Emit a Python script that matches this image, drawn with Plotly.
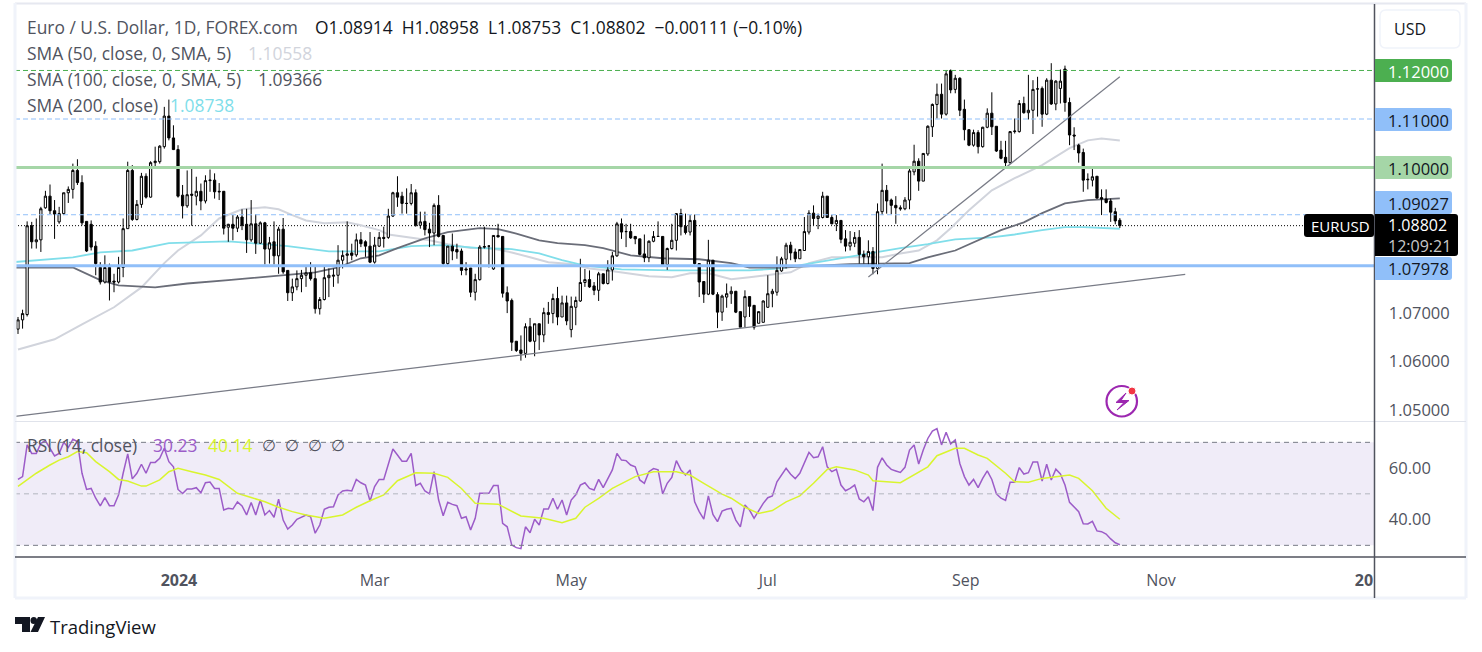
import plotly.graph_objects as go

W, H = 1482, 652
FONT = "Open Sans"

# candles, oldest first, one per trading day
open_prices = [
    1.0667,1.0686,1.0697,1.0880,1.0847,1.0851,1.0917,1.0941,1.0911,1.0888,
    1.0905,1.0948,1.0955,1.0994,1.0969,1.0889,1.0883,1.0838,1.0794,1.0764,
    1.0794,1.0766,1.0764,1.0794,1.0874,1.0994,1.0893,1.0924,1.0982,1.0939,
    1.1010,1.1012,1.1043,1.1106,1.1061,1.1037,1.0943,1.0921,1.0945,1.0941,
    1.0951,1.0931,1.0973,1.0974,1.0951,1.0951,1.0877,1.0883,1.0875,1.0898,
    1.0883,1.0851,1.0884,1.0844,1.0886,1.0832,1.0847,1.0818,1.0873,1.0788,
    1.0742,1.0754,1.0771,1.0778,1.0783,1.0771,1.0709,1.0728,1.0773,1.0776,
    1.0778,1.0809,1.0819,1.0824,1.0820,1.0851,1.0847,1.0838,1.0805,1.0838,
    1.0856,1.0856,1.0900,1.0948,1.0941,1.0926,1.0926,1.0948,1.0881,1.0889,
    1.0873,1.0865,1.0922,1.0860,1.0802,1.0838,1.0831,1.0828,1.0791,1.0793,
    1.0743,1.0769,1.0836,1.0838,1.0791,1.0860,1.0858,1.0742,1.0726,1.0642,
    1.0624,1.0617,1.0672,1.0642,1.0678,1.0655,1.0701,1.0699,1.0730,1.0692,
    1.0721,1.0666,1.0712,1.0725,1.0763,1.0769,1.0756,1.0747,1.0781,1.0761,
    1.0789,1.0818,1.0884,1.0868,1.0868,1.0858,1.0853,1.0822,1.0814,1.0848,
    1.0858,1.0858,1.0800,1.0833,1.0850,1.0905,1.0879,1.0867,1.0891,1.0802,
    1.0765,1.0739,1.0809,1.0738,1.0702,1.0733,1.0740,1.0745,1.0703,1.0692,
    1.0734,1.0716,1.0679,1.0681,1.0712,1.0740,1.0743,1.0787,1.0811,1.0840,
    1.0826,1.0812,1.0829,1.0867,1.0906,1.0895,1.0897,1.0941,1.0897,1.0884,
    1.0891,1.0853,1.0838,1.0844,1.0856,1.0821,1.0816,1.0827,1.0792,1.0909,
    1.0953,1.0933,1.0922,1.0917,1.0915,1.0933,1.0991,1.1013,1.0972,1.1028,
    1.1084,1.1130,1.1151,1.1110,1.1200,1.1161,1.1184,1.1120,1.1078,1.1046,
    1.1072,1.1043,1.1083,1.1112,1.1085,1.1036,1.1021,1.1010,1.1074,1.1074,
    1.1132,1.1113,1.1118,1.1162,1.1163,1.1110,1.1180,1.1131,1.1163,1.1203,
    1.1134,1.1067,1.1046,1.1031,1.0976,1.0974,1.0982,1.0938,1.0935,1.0931,
    1.0909,1.08914]
high_prices = [
    1.0692,1.0707,1.0889,1.0888,1.0895,1.0919,1.0952,1.0965,1.0933,1.0919,
    1.0948,1.0961,1.1008,1.1017,1.0984,1.0889,1.0891,1.0848,1.0805,1.0819,
    1.0802,1.0781,1.0816,1.0895,1.1012,1.1005,1.0933,1.0989,1.0988,1.1013,
    1.1043,1.1046,1.1125,1.1140,1.1087,1.1046,1.0964,1.0994,1.0998,1.0981,
    1.0967,1.0984,1.0996,1.0988,1.0968,1.0951,1.0884,1.0902,1.0902,1.0914,
    1.0915,1.0933,1.0904,1.0889,1.0888,1.0857,1.0889,1.0878,1.0896,1.0788,
    1.0771,1.0788,1.0789,1.0795,1.0805,1.0795,1.0733,1.0795,1.0792,1.0792,
    1.0840,1.0829,1.0889,1.0843,1.0864,1.0867,1.0850,1.0867,1.0857,1.0867,
    1.0878,1.0915,1.0950,1.0982,1.0950,1.0957,1.0966,1.0955,1.0909,1.0909,
    1.0886,1.0926,1.0943,1.0860,1.0838,1.0864,1.0843,1.0833,1.0805,1.0793,
    1.0781,1.0840,1.0878,1.0840,1.0860,1.0884,1.0858,1.0755,1.0730,1.0642,
    1.0654,1.0679,1.0690,1.0678,1.0678,1.0711,1.0723,1.0740,1.0754,1.0736,
    1.0736,1.0734,1.0734,1.0812,1.0791,1.0788,1.0764,1.0785,1.0781,1.0809,
    1.0826,1.0888,1.0895,1.0884,1.0884,1.0858,1.0853,1.0862,1.0850,1.0869,
    1.0889,1.0858,1.0835,1.0884,1.0906,1.0915,1.0905,1.0902,1.0903,1.0802,
    1.0765,1.0851,1.0809,1.0743,1.0738,1.0761,1.0755,1.0745,1.0703,1.0747,
    1.0734,1.0716,1.0703,1.0726,1.0778,1.0750,1.0817,1.0816,1.0845,1.0847,
    1.0833,1.0831,1.0898,1.0912,1.0922,1.0905,1.0950,1.0941,1.0902,1.0902,
    1.0891,1.0871,1.0869,1.0867,1.0871,1.0829,1.0850,1.0836,1.0926,1.1008,
    1.0964,1.0936,1.0941,1.0922,1.0939,1.0998,1.1047,1.1019,1.1029,1.1087,
    1.1132,1.1173,1.1173,1.1201,1.1202,1.1191,1.1186,1.1140,1.1078,1.1078,
    1.1077,1.1084,1.1122,1.1155,1.1085,1.1055,1.1055,1.1075,1.1101,1.1139,
    1.1146,1.1191,1.1180,1.1187,1.1167,1.1184,1.1215,1.1180,1.1202,1.1210,
    1.1144,1.1083,1.1049,1.1039,1.0988,1.0997,1.0982,1.0955,1.0955,1.0936,
    1.0917,1.08958]
low_prices = [
    1.0657,1.0668,1.0693,1.0833,1.0833,1.0826,1.0915,1.0904,1.0853,1.0884,
    1.0902,1.0927,1.0936,1.0964,1.0881,1.0826,1.0829,1.0778,1.0759,1.0761,
    1.0726,1.0743,1.0761,1.0774,1.0874,1.0890,1.0891,1.0917,1.0936,1.0938,
    1.1001,1.1008,1.1039,1.1056,1.1036,1.0938,1.0895,1.0917,1.0880,1.0922,
    1.0912,1.0926,1.0950,1.0936,1.0933,1.0862,1.0847,1.0850,1.0867,1.0871,
    1.0824,1.0847,1.0822,1.0843,1.0800,1.0802,1.0800,1.0781,1.0781,1.0725,
    1.0725,1.0747,1.0743,1.0754,1.0767,1.0699,1.0697,1.0726,1.0733,1.0754,
    1.0761,1.0792,1.0802,1.0809,1.0816,1.0836,1.0816,1.0803,1.0802,1.0836,
    1.0835,1.0853,1.0898,1.0919,1.0905,1.0905,1.0922,1.0878,1.0874,1.0860,
    1.0836,1.0840,1.0856,1.0798,1.0798,1.0809,1.0812,1.0778,1.0778,1.0733,
    1.0726,1.0767,1.0833,1.0794,1.0789,1.0856,1.0732,1.0700,1.0622,1.0620,
    1.0602,1.0608,1.0640,1.0611,1.0624,1.0640,1.0678,1.0679,1.0675,1.0692,
    1.0675,1.0650,1.0675,1.0723,1.0754,1.0752,1.0737,1.0725,1.0759,1.0759,
    1.0767,1.0816,1.0853,1.0836,1.0853,1.0842,1.0819,1.0805,1.0805,1.0846,
    1.0857,1.0798,1.0789,1.0831,1.0829,1.0860,1.0862,1.0860,1.0800,1.0733,
    1.0721,1.0737,1.0737,1.0669,1.0684,1.0711,1.0719,1.0700,1.0671,1.0671,
    1.0692,1.0666,1.0679,1.0681,1.0711,1.0712,1.0736,1.0785,1.0792,1.0809,
    1.0805,1.0812,1.0829,1.0862,1.0881,1.0873,1.0895,1.0897,1.0883,1.0869,
    1.0844,1.0827,1.0829,1.0836,1.0802,1.0802,1.0800,1.0780,1.0780,1.0902,
    1.0905,1.0904,1.0884,1.0911,1.0912,1.0914,1.0984,1.0952,1.0972,1.1024,
    1.1063,1.1101,1.1101,1.1107,1.1153,1.1153,1.1106,1.1056,1.1044,1.1043,
    1.1029,1.1041,1.1081,1.1067,1.1032,1.1017,1.1003,1.1008,1.1070,1.1072,
    1.1111,1.1099,1.1069,1.1105,1.1084,1.1108,1.1129,1.1118,1.1132,1.1115,
    1.1046,1.1036,1.1010,1.0950,1.0955,1.0961,1.0936,1.0902,1.0926,1.0888,
    1.0883,1.08753]
close_prices = [
    1.0686,1.0699,1.0880,1.0847,1.0851,1.0915,1.0941,1.0911,1.0904,1.0905,
    1.0948,1.0955,1.0994,1.0969,1.0886,1.0828,1.0836,1.0802,1.0764,1.0794,
    1.0764,1.0764,1.0794,1.0874,1.0994,1.0893,1.0924,1.0982,1.0939,1.1010,
    1.1013,1.1044,1.1106,1.1061,1.1037,1.0941,1.0921,1.0944,1.0943,1.0951,
    1.0931,1.0973,1.0974,1.0950,1.0950,1.0875,1.0883,1.0875,1.0898,1.0881,
    1.0851,1.0884,1.0844,1.0886,1.0832,1.0845,1.0818,1.0873,1.0785,1.0742,
    1.0754,1.0771,1.0778,1.0783,1.0771,1.0709,1.0728,1.0773,1.0778,1.0778,
    1.0809,1.0819,1.0822,1.0819,1.0851,1.0843,1.0838,1.0805,1.0840,1.0856,
    1.0854,1.0900,1.0948,1.0939,1.0926,1.0926,1.0948,1.0881,1.0888,1.0872,
    1.0865,1.0922,1.0858,1.0802,1.0838,1.0828,1.0826,1.0788,1.0789,1.0743,
    1.0769,1.0836,1.0837,1.0838,1.0860,1.0857,1.0741,1.0725,1.0640,1.0623,
    1.0617,1.0672,1.0642,1.0678,1.0655,1.0701,1.0697,1.0730,1.0692,1.0721,
    1.0684,1.0714,1.0726,1.0763,1.0769,1.0754,1.0747,1.0781,1.0761,1.0789,
    1.0818,1.0884,1.0867,1.0868,1.0855,1.0853,1.0821,1.0814,1.0848,1.0858,
    1.0858,1.0800,1.0833,1.0850,1.0905,1.0878,1.0866,1.0891,1.0802,1.0764,
    1.0739,1.0809,1.0739,1.0702,1.0735,1.0740,1.0745,1.0702,1.0671,1.0734,
    1.0714,1.0671,1.0703,1.0725,1.0740,1.0745,1.0788,1.0812,1.0840,1.0824,
    1.0812,1.0831,1.0868,1.0906,1.0895,1.0900,1.0941,1.0897,1.0884,1.0891,
    1.0852,1.0838,1.0846,1.0856,1.0821,1.0816,1.0827,1.0792,1.0909,1.0953,
    1.0931,1.0922,1.0917,1.0915,1.0933,1.0993,1.1013,1.0972,1.1029,1.1085,
    1.1130,1.1151,1.1110,1.1193,1.1160,1.1184,1.1118,1.1078,1.1046,1.1072,
    1.1043,1.1083,1.1112,1.1084,1.1034,1.1019,1.1010,1.1074,1.1075,1.1132,
    1.1113,1.1118,1.1161,1.1162,1.1110,1.1180,1.1131,1.1178,1.1178,1.1134,
    1.1067,1.1065,1.1030,1.0974,1.0975,1.0981,1.0937,1.0935,1.0928,1.0908,
    1.0890,1.08802]

rsi_values = [
    55.6,56.7,69.0,65.7,65.7,69.6,70.6,67.7,64.7,65.7,
    70.0,68.0,71.2,70.3,58.0,51.7,52.1,48.3,45.3,48.5,
    45.4,45.4,49.6,58.0,65.5,55.8,58.0,61.5,58.0,62.2,
    62.2,63.8,67.7,62.5,60.5,51.7,50.1,51.9,51.9,52.4,
    50.4,54.3,54.6,52.1,52.1,43.7,44.4,44.1,46.9,45.3,
    41.8,46.6,41.8,47.6,41.8,43.5,40.9,47.9,39.8,36.3,
    37.9,40.1,41.1,41.8,41.1,34.7,37.9,44.0,44.8,45.0,
    49.6,51.1,51.4,51.1,55.6,54.3,53.4,47.2,52.8,55.6,
    55.6,61.8,67.4,65.1,62.7,62.7,65.7,53.2,54.1,51.1,
    50.0,58.6,47.6,41.5,46.7,45.9,45.4,40.5,41.1,36.0,
    40.5,50.2,50.2,50.2,53.2,53.2,38.5,37.2,30.1,29.1,
    28.7,37.2,34.9,40.1,37.9,44.1,44.1,48.3,44.0,47.6,
    41.8,47.6,49.6,53.4,54.3,52.1,51.5,55.6,52.4,56.0,
    59.3,65.7,63.1,62.9,61.2,60.5,55.4,54.1,58.6,59.8,
    59.3,50.0,54.1,56.4,62.9,59.3,57.3,59.3,46.9,43.1,
    40.2,49.2,42.0,39.2,43.3,44.0,44.4,39.8,37.2,45.7,
    43.7,40.5,43.7,46.3,48.5,49.2,54.7,57.3,59.9,57.6,
    55.9,58.0,61.8,66.1,64.0,64.4,68.3,60.5,58.6,59.5,
    53.4,51.2,52.1,53.4,48.0,46.9,48.9,43.5,60.3,64.0,
    61.2,59.5,58.9,58.3,60.3,67.0,69.0,61.6,67.0,71.5,
    74.4,75.3,69.0,73.9,69.4,70.9,61.8,56.7,53.4,55.6,
    52.4,56.0,58.9,55.6,50.0,48.3,47.4,54.5,54.5,60.2,
    57.7,58.2,62.4,62.4,55.0,61.5,55.4,59.6,57.7,53.4,
    46.7,44.8,43.1,38.4,38.3,39.3,35.6,35.3,34.4,32.5,
    31.0,30.23]

rsi_ma_bars = [0,2,4,7,9,11,13,15,17,20,22,24,27,28,31,33,35,38,41,44,46,48,51,54,57,60,63,67,71,74,77,80,83,87,91,94,97,
               100,105,110,115,119,122,124,127,130,135,139,144,147,150,154,156,159,162,165,168,171,174,177,179,183,186,187,
               193,196,199,201,205,207,210,212,216,218,221,224,230,232,235,238,241]
rsi_ma_values = [52.9,55.6,58.0,61.2,63.1,64.4,66.4,66.0,62.5,58.6,55.6,55.0,53.0,53.0,55.4,58.6,59.9,58.6,57.3,55.6,52.8,50.2,48.6,46.9,44.8,43.1,41.8,40.5,41.8,44.8,47.3,49.6,55.1,58.2,58.0,56.4,52.1,
                 46.3,46.0,41.4,40.5,38.8,40.5,44.8,48.2,52.1,56.7,58.6,58.6,57.3,54.1,49.9,48.3,44.8,42.4,43.5,46.9,49.2,54.1,59.5,60.5,59.3,57.3,55.1,
                 54.3,57.3,60.5,64.8,67.7,67.7,65.1,63.8,58.0,54.7,54.5,56.0,57.3,56.0,51.2,44.4,40.14]

sma50_bars = [0,3,8,14,21,27,32,35,40,44,49,54,57,60,63,67,72,75,79,81,86,90,94,99,103,108,112,116,121,125,129,134,138,143,147,151,156,160,164,169,173,178,182,189,193,197,201,204,208,213,218,224,230,234,237,241]
sma50_values = [1.0625,1.0633,1.0646,1.0677,1.0712,1.0753,1.0803,1.0829,1.0860,1.0895,1.0914,1.0918,1.0914,1.0902,1.0891,1.0885,1.0887,1.0881,1.0871,1.0862,1.0856,1.0850,1.0842,1.0834,1.0834,1.0825,1.0815,1.0805,1.0801,1.0792,1.0788,1.0782,1.0776,1.0774,1.0782,1.0782,1.0770,1.0774,1.0778,1.0784,1.0803,1.0815,1.0815,1.0815,1.0823,1.0829,1.0850,1.0875,1.0912,1.0953,1.0978,1.1005,1.1040,1.1056,1.1060,1.10558]

sma100_bars = [-1,12,18,22,30,37,46,51,58,65,70,75,79,83,89,94,101,105,109,114,118,124,128,134,141,149,156,160,167,182,195,199,205,211,215,220,224,229,234,241]
sma100_values = [1.0794,1.0794,1.0768,1.0757,1.0753,1.0761,1.0768,1.0772,1.0778,1.0784,1.0794,1.0813,1.0819,1.0834,1.0854,1.0867,1.0875,1.0873,1.0864,1.0850,1.0844,1.0840,1.0834,1.0819,1.0813,1.0811,1.0803,1.0794,1.0794,1.0801,1.0803,1.0815,1.0829,1.0854,1.0871,1.0887,1.0906,1.0926,1.0933,1.09366]

sma200_bars = [-1,5,12,18,25,33,40,46,51,59,68,79,86,93,101,108,114,119,124,132,143,160,167,175,182,193,199,205,213,218,224,229,233,241]
sma200_values = [1.0805,1.0809,1.0815,1.0825,1.0829,1.0844,1.0846,1.0848,1.0844,1.0838,1.0827,1.0827,1.0838,1.0840,1.0834,1.0832,1.0823,1.0809,1.0798,1.0790,1.0788,1.0788,1.0792,1.0805,1.0815,1.0834,1.0842,1.0852,1.0856,1.0862,1.0871,1.0877,1.0877,1.08738]

# hand drawn trend lines
long_trend_bars = [-0.66, 255.3]
long_trend_prices = [1.0487, 1.0780]
steep_trend_bars = [186, 241]
steep_trend_prices = [1.07744, 1.1187]

# levels on the price scale
dashed_levels = [1.12, 1.11, 1.09027]
dashed_colors = ["#4caf50", "#90bff9", "#90bff9"]
solid_levels = [1.10, 1.07978]
solid_colors = ["#a5d6a7", "#90bff9"]
last_price = 1.08802

price_ticks = [1.05, 1.06, 1.07]
price_tick_text = ["1.05000", "1.06000", "1.07000"]
rsi_ticks = [40, 60]
rsi_tick_text = ["40.00", "60.00"]
time_ticks = [35.2, 78, 121, 164, 207.3, 250, 294.4]
time_tick_text = ["<b>2024</b>", "Mar", "May", "Jul", "Sep", "Nov", "<b>20</b>"]

bars = list(range(len(close_prices)))
GRAY = "#50535e"


# pixel helpers for the decoration around the chart
def px(x):
    return x / W


def py(y):
    return 1 - y / H


def box_path(x0, y0, x1, y1, r=3, left_round=False):
    rl = r if left_round else 0
    return (f"M{px(x0 + rl)},{py(y0)} L{px(x1 - r)},{py(y0)} Q{px(x1)},{py(y0)} {px(x1)},{py(y0 + r)} "
            f"L{px(x1)},{py(y1 - r)} Q{px(x1)},{py(y1)} {px(x1 - r)},{py(y1)} L{px(x0 + rl)},{py(y1)} "
            f"Q{px(x0)},{py(y1)} {px(x0)},{py(y1 - rl)} L{px(x0)},{py(y0 + rl)} Q{px(x0)},{py(y0)} {px(x0 + rl)},{py(y0)} Z")


def poly_path(points):
    return "M" + " L".join(f"{px(a)},{py(b)}" for a, b in points) + " Z"


def paper_shape(path, fill, line="rgba(0,0,0,0)", width=0):
    fig.add_shape(type="path", path=path, xref="paper", yref="paper", fillcolor=fill, line=dict(color=line, width=width))


def paper_line(x0, y0, x1, y1, color, width=1):
    fig.add_shape(type="line", xref="paper", yref="paper", x0=px(x0), y0=py(y0), x1=px(x1), y1=py(y1),
                  line=dict(color=color, width=width))


def label(x, y, text, color=GRAY, size=16.5, anchor="left"):
    # annotations pad their text by about 2px
    fig.add_annotation(x=px(x - 2), y=py(y), xref="paper", yref="paper", text=text, showarrow=False, xanchor=anchor,
                       yanchor="middle", font=dict(family=FONT, size=size, color=color), align="left")


fig = go.Figure()

# moving averages sit under the candles
fig.add_trace(go.Scatter(x=sma50_bars, y=sma50_values, mode="lines", line=dict(color="#d1d4dc", width=2), yaxis="y"))
fig.add_trace(go.Scatter(x=sma200_bars, y=sma200_values, mode="lines", line=dict(color="#80deea", width=1.8), yaxis="y"))
fig.add_trace(go.Scatter(x=sma100_bars, y=sma100_values, mode="lines", line=dict(color="#6a6d78", width=1.8), yaxis="y"))

fig.add_trace(go.Candlestick(x=bars, open=open_prices, high=high_prices, low=low_prices, close=close_prices,
                             increasing=dict(fillcolor="#ffffff", line=dict(color="#000000", width=1)),
                             decreasing=dict(fillcolor="#000000", line=dict(color="#000000", width=1)),
                             whiskerwidth=0, yaxis="y3", hoverinfo="skip"))
fig.add_trace(go.Scatter(x=long_trend_bars, y=long_trend_prices, mode="lines", line=dict(color="#787b86", width=1.2), yaxis="y3"))
fig.add_trace(go.Scatter(x=steep_trend_bars, y=steep_trend_prices, mode="lines", line=dict(color="#787b86", width=1.2), yaxis="y3"))

# RSI pane
fig.add_trace(go.Scatter(x=bars, y=rsi_values, mode="lines", line=dict(color="#9c5cc8", width=1.5), yaxis="y2"))
fig.add_trace(go.Scatter(x=rsi_ma_bars, y=rsi_ma_values, mode="lines", line=dict(color="#d9f52e", width=1.5), yaxis="y2"))

PRICE_RANGE = [1.04766, 1.1337]
fig.update_layout(
    width=W, height=H, margin=dict(l=0, r=0, t=0, b=0), paper_bgcolor="#ffffff", plot_bgcolor="#ffffff",
    showlegend=False, font=dict(family=FONT, size=16, color=GRAY),
    xaxis=dict(domain=[px(15), px(1374.5)], range=[-0.656, 296.7], anchor="y2", showgrid=False, zeroline=False,
               tickmode="array", tickvals=time_ticks, ticktext=time_tick_text, ticks="outside", ticklen=9,
               tickcolor="rgba(0,0,0,0)", tickfont=dict(family=FONT, size=16, color=GRAY), rangeslider=dict(visible=False)),
    yaxis=dict(domain=[py(421.5), py(4)], range=PRICE_RANGE, side="right", anchor="x", showgrid=False, zeroline=False,
               tickmode="array", tickvals=price_ticks, ticktext=price_tick_text, ticks="outside", ticklen=10,
               tickcolor="rgba(0,0,0,0)", tickfont=dict(family=FONT, size=16.5, color=GRAY)),
    yaxis3=dict(range=PRICE_RANGE, overlaying="y", side="right", anchor="x", visible=False),
    yaxis2=dict(domain=[py(557), py(422)], range=[25.47, 77.9], side="right", anchor="x", showgrid=False, zeroline=False,
                tickmode="array", tickvals=rsi_ticks, ticktext=rsi_tick_text, ticks="outside", ticklen=10,
                tickcolor="rgba(0,0,0,0)", tickfont=dict(family=FONT, size=16.5, color=GRAY)),
)

# RSI band and its guide lines
fig.add_shape(type="rect", xref="x domain", yref="y2", x0=0, x1=1, y0=30, y1=70, fillcolor="#f0ecf8", line_width=0, layer="below")
fig.add_shape(type="line", xref="x domain", yref="y2", x0=0, x1=1, y0=70, y1=70, line=dict(color="#787b86", width=1, dash="5px,4px"))
fig.add_shape(type="line", xref="x domain", yref="y2", x0=0, x1=1, y0=30, y1=30, line=dict(color="#787b86", width=1, dash="5px,4px"))
fig.add_shape(type="line", xref="x domain", yref="y2", x0=0, x1=1, y0=50, y1=50, line=dict(color="#b2b5be", width=1, dash="5px,4px"))

# horizontal levels
fig.add_shape(type="line", xref="x domain", yref="y", x0=0, x1=1, y0=last_price, y1=last_price, line=dict(color="#000000", width=1, dash="1px,2px"), layer="below")
for level, color in zip(dashed_levels, dashed_colors):
    fig.add_shape(type="line", xref="x domain", yref="y", x0=0, x1=1, y0=level, y1=level, line=dict(color=color, width=1, dash="5px,3px"))
for level, color in zip(solid_levels, solid_colors):
    fig.add_shape(type="line", xref="x domain", yref="y", x0=0, x1=1, y0=level, y1=level, line=dict(color=color, width=3))

# chart frame and pane separators
paper_line(15, 3.5, 1466, 3.5, "#e6e8f0", 2)
paper_line(15, 3, 15, 598, "#f0f3fa", 3)
paper_line(1466, 3, 1466, 598, "#f0f3fa", 3)
paper_line(15, 598, 1466, 598, "#f0f3fa", 3)
paper_line(15, 421.5, 1466, 421.5, "#e0e3eb", 1)
paper_line(15, 557, 1466, 557, GRAY, 1.5)
paper_line(1374.5, 4, 1374.5, 598, GRAY, 1.5)

# currency button
paper_shape(box_path(1380, 10, 1460, 48, 6, True), "#ffffff", "#f0f3fa", 1.5)
label(1394, 29, "USD", "#131722", 16)

# price scale labels
paper_shape(box_path(1375, 59, 1452, 82), "#4caf50")
label(1388, 71, "1.12000", "#ffffff")
paper_shape(box_path(1375, 108, 1452, 131), "#90bff9")
label(1388, 120, "1.11000", "#131722")
paper_shape(box_path(1375, 156, 1452, 179), "#a5d6a7")
label(1388, 168, "1.10000", "#131722")
paper_shape(box_path(1375, 191, 1452, 214), "#90bff9")
label(1388, 203, "1.09027", "#131722")
paper_shape(box_path(1375, 257, 1452, 280), "#90bff9")
label(1388, 269, "1.07978", "#131722")
paper_shape(box_path(1304, 214, 1374, 237, 3, True), "#000000")
label(1311, 226, "EURUSD", "#ffffff", 15)
paper_shape(box_path(1375, 214, 1458, 256), "#000000")
label(1388, 235.5, "1.08802<br><span style='color:#c8c8c8'>12:09:21</span>", "#ffffff", 16)

# legend rows
LEGEND_SIZE = 17.4
label(27, 27, "Euro / U.S. Dollar, 1D, FOREX.com", GRAY, LEGEND_SIZE)
label(315, 27, "O1.08914  H1.08958  L1.08753  C1.08802  −0.00111 (−0.10%)", "#131722", LEGEND_SIZE)
label(27, 53, "SMA (50, close, 0, SMA, 5)", GRAY, LEGEND_SIZE)
label(248, 53, "1.10558", "#d1d4dc", LEGEND_SIZE)
label(27, 79, "SMA (100, close, 0, SMA, 5)", GRAY, LEGEND_SIZE)
label(258, 79, "1.09366", GRAY, LEGEND_SIZE)
label(27, 105, "SMA (200, close)", GRAY, LEGEND_SIZE)
label(170, 105, "1.08738", "#80deea", LEGEND_SIZE)
label(27, 445, "RSI (14, close)", GRAY, LEGEND_SIZE)
label(153, 445, "30.23", "#9c5cc8", LEGEND_SIZE)
label(208, 445, "40.14", "#d9f52e", LEGEND_SIZE)
for slash_x in [262, 285, 308, 331]:
    label(slash_x, 445, "∅", GRAY, 16)

# lightning badge
fig.add_shape(type="circle", xref="paper", yref="paper", x0=px(1106.5), x1=px(1137), y0=py(416.5), y1=py(386),
              line=dict(color="#9c27b0", width=2.2))
paper_shape(poly_path([(1126, 393), (1116, 402.5), (1124, 402.5), (1117, 410), (1129, 400.5), (1121, 400.5)]), "#9c27b0", "#9c27b0", 1)
fig.add_shape(type="circle", xref="paper", yref="paper", x0=px(1128), x1=px(1136), y0=py(395), y1=py(387),
              fillcolor="#f23645", line=dict(color="#ffffff", width=1))

# TradingView mark
paper_shape(poly_path([(15, 617), (30, 617), (30, 632), (22, 632), (22, 624), (15, 624)]), "#131722")
fig.add_shape(type="circle", xref="paper", yref="paper", x0=px(30.5), x1=px(37), y0=py(624), y1=py(617), fillcolor="#131722", line_width=0)
paper_shape(poly_path([(38, 617), (45, 617), (38, 632), (30.5, 632)]), "#131722")
label(50, 626, "TradingView", "#131722", 18.5)

fig.write_html("out.html", config=dict(displayModeBar=False), post_script="document.body.style.margin='0';")
